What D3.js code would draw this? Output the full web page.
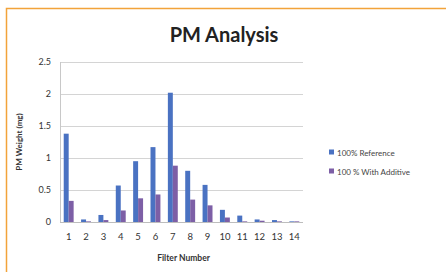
<!DOCTYPE html>
<html lang="en">
<head>
<meta charset="UTF-8">
<title>PM Analysis</title>
<script src="https://d3js.org/d3.v7.min.js"></script>
<style>
  body { margin: 0; background: #fff; }
  svg { display: block; font-family: Lato, "Open Sans", sans-serif; }
</style>
</head>
<body>
<svg id="chart"></svg>
<script>
// filter numbers and the two series (mg)
var filters = ["1","2","3","4","5","6","7","8","9","10","11","12","13","14"];
var reference = [1.38, 0.04, 0.11, 0.57, 0.95, 1.17, 2.02, 0.80, 0.58, 0.19, 0.10, 0.04, 0.03, 0.01];
var additive  = [0.33, 0.01, 0.03, 0.18, 0.37, 0.43, 0.88, 0.35, 0.26, 0.07, 0.01, 0.02, 0.01, 0.01];
var seriesNames = ["100% Reference", "100 % With Additive"];
var colors = ["#4a72c2", "#7d5fa6"];
var yTicks = [0, 0.5, 1, 1.5, 2, 2.5];

var width = 446, height = 272;
var svg = d3.select("#chart").attr("width", width).attr("height", height);

// orange frame
svg.append("rect")
    .attr("x", 6.5).attr("y", 8.5)
    .attr("width", width + 10).attr("height", height)
    .attr("fill", "#fff")
    .attr("stroke", "#f2a33a")
    .attr("stroke-width", 1.5);

// plot area bounds (names avoid window.top)
var plotL = 60, plotR = 303, plotT = 62, plotB = 222;

var x = d3.scaleBand().domain(filters).range([plotL, plotR]);
var inner = d3.scaleBand().domain([0, 1]).range([0, x.bandwidth()]).paddingInner(0).paddingOuter(0.75);
var y = d3.scaleLinear().domain([0, 2.5]).range([plotB, plotT]);

// gridlines
svg.append("g").selectAll("line")
    .data(yTicks)
    .enter().append("line")
    .attr("x1", plotL).attr("x2", plotR)
    .attr("y1", function(d) { return Math.round(y(d)) + 0.5; })
    .attr("y2", function(d) { return Math.round(y(d)) + 0.5; })
    .attr("stroke", function(d) { return d === 0 ? "#bdbdbd" : "#d4d4d4"; })
    .attr("stroke-width", 1.2);

// y axis line
svg.append("line")
    .attr("x1", plotL + 0.5).attr("x2", plotL + 0.5)
    .attr("y1", plotT).attr("y2", plotB)
    .attr("stroke", "#c8c8c8");

// y tick labels
svg.append("g").selectAll("text")
    .data(yTicks)
    .enter().append("text")
    .attr("x", plotL - 9)
    .attr("y", function(d) { return y(d) + 3; })
    .attr("text-anchor", "end")
    .attr("font-size", 9)
    .attr("fill", "#333")
    .text(function(d) { return d; });

// x tick labels
svg.append("g").selectAll("text")
    .data(filters)
    .enter().append("text")
    .attr("x", function(d) { return x(d) + x.bandwidth() / 2; })
    .attr("y", plotB + 18)
    .attr("text-anchor", "middle")
    .attr("font-size", 9.5)
    .attr("fill", "#333")
    .text(function(d) { return d; });

// bars
[reference, additive].forEach(function(vals, s) {
    svg.append("g").selectAll("rect")
        .data(vals)
        .enter().append("rect")
        .attr("x", function(d, i) { return x(filters[i]) + inner(s); })
        .attr("y", function(d) { return y(d); })
        .attr("width", inner.bandwidth())
        .attr("height", function(d) { return plotB - y(d); })
        .attr("fill", colors[s]);
});

// title
svg.append("text")
    .attr("x", 224).attr("y", 42)
    .attr("text-anchor", "middle")
    .attr("font-size", 20)
    .attr("font-weight", "bold")
    .attr("fill", "#222")
    .text("PM Analysis");

// axis titles
svg.append("text")
    .attr("transform", "translate(22," + ((plotT + plotB) / 2) + ") rotate(-90)")
    .attr("text-anchor", "middle")
    .attr("font-size", 8)
    .attr("font-weight", "bold")
    .attr("fill", "#333")
    .text("PM Weight (mg)");

svg.append("text")
    .attr("x", (plotL + plotR) / 2 + 2).attr("y", 261)
    .attr("text-anchor", "middle")
    .attr("font-size", 8.5)
    .attr("font-weight", "bold")
    .attr("fill", "#333")
    .text("Filter Number");

// legend
var legend = svg.append("g").selectAll("g")
    .data(seriesNames)
    .enter().append("g")
    .attr("transform", function(d, i) { return "translate(329," + (153 + i * 19) + ")"; });
legend.append("rect")
    .attr("x", 0).attr("y", -3.5)
    .attr("width", 5).attr("height", 5)
    .attr("fill", function(d, i) { return colors[i]; });
legend.append("text")
    .attr("x", 8).attr("y", 2.5)
    .attr("font-size", 8)
    .attr("fill", "#444")
    .text(function(d) { return d; });
</script>
</body>
</html>
